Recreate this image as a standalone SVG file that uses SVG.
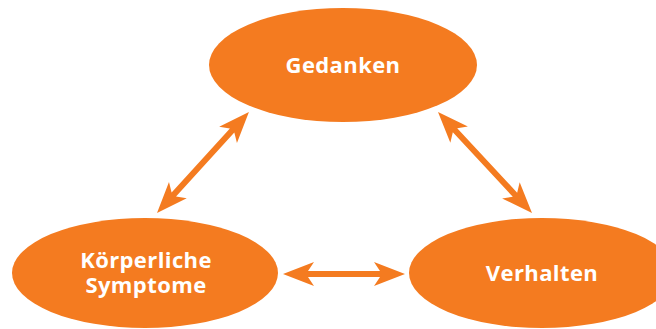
<svg xmlns="http://www.w3.org/2000/svg" width="656" height="329" viewBox="0 0 656 329">
<style>
.node{fill:#F47B20}
.lbl{font-family:"Open Sans","DejaVu Sans",sans-serif;font-weight:bold;font-size:22px;fill:#ffffff;text-anchor:middle;letter-spacing:0.4px}
.arr{fill:#F47B20}
</style>
<rect width="656" height="329" fill="#ffffff"/>
<g id="connectors">
<path class="arr" transform="translate(157,213) rotate(-47.7)" d="M0,0 L31,-12 L25,-3 L111.6,-3 L105.6,-12 L136.6,0 L105.6,12 L111.6,3 L25,3 L31,12 Z"/>
<path class="arr" transform="translate(438,112) rotate(47.06)" d="M0,0 L31,-12 L25,-3 L113,-3 L107,-12 L138,0 L107,12 L113,3 L25,3 L31,12 Z"/>
<path class="arr" transform="translate(283,274)" d="M0,0 L31,-12 L25,-3 L97,-3 L91,-12 L122,0 L91,12 L97,3 L25,3 L31,12 Z"/>
</g>
<g id="gedanken">
<ellipse class="node" cx="343" cy="65" rx="134" ry="57"/>
<text class="lbl" x="343" y="73">Gedanken</text>
</g>
<g id="koerperliche-symptome">
<ellipse class="node" cx="145" cy="273" rx="133" ry="55"/>
<text class="lbl" x="146" y="268">Körperliche</text>
<text class="lbl" x="146" y="293">Symptome</text>
</g>
<g id="verhalten">
<ellipse class="node" cx="542" cy="273" rx="133" ry="55"/>
<text class="lbl" x="542" y="281">Verhalten</text>
</g>
</svg>
